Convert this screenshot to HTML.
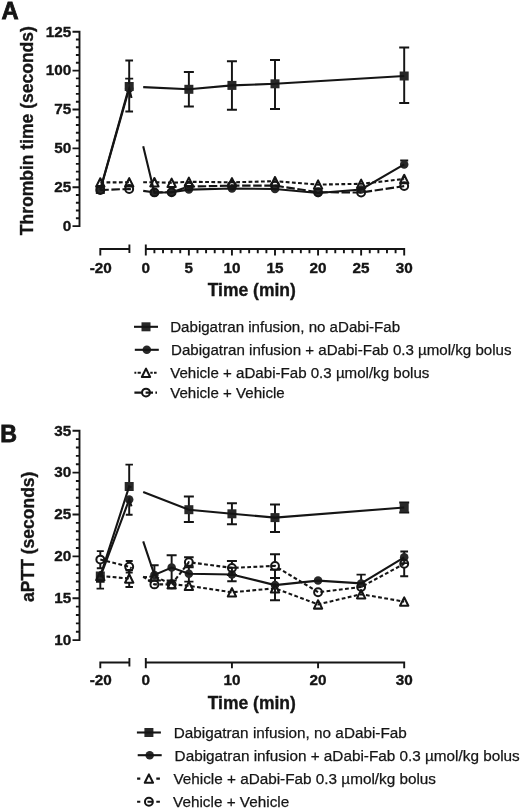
<!DOCTYPE html>
<html lang="en">
<head>
<meta charset="utf-8">
<title>Figure: Thrombin time and aPTT</title>
<style>
html,body{margin:0;padding:0;background:#fff;}
body{width:520px;height:809px;overflow:hidden;}
svg{display:block;filter:blur(0.3px);font-family:"Liberation Sans",Arial,Helvetica,sans-serif;fill:#151515;}
</style>
</head>
<body>
<svg width="520" height="809" viewBox="0 0 520 809">
<rect x="0" y="0" width="520" height="809" fill="#fff"/>
<text x="1.6" y="19" font-size="23.7" font-weight="bold" text-anchor="start" stroke="#151515" stroke-width="0.8">A</text>
<path d="M79.5 30.75 V227.05 M72.5 31.7 H79.5 M75.9 39.48 H79.5 M75.9 47.25 H79.5 M75.9 55.03 H79.5 M75.9 62.8 H79.5 M72.5 70.58 H79.5 M75.9 78.36 H79.5 M75.9 86.13 H79.5 M75.9 93.91 H79.5 M75.9 101.68 H79.5 M72.5 109.46 H79.5 M75.9 117.24 H79.5 M75.9 125.01 H79.5 M75.9 132.79 H79.5 M75.9 140.56 H79.5 M72.5 148.34 H79.5 M75.9 156.12 H79.5 M75.9 163.89 H79.5 M75.9 171.67 H79.5 M75.9 179.44 H79.5 M72.5 187.22 H79.5 M75.9 195 H79.5 M75.9 202.77 H79.5 M75.9 210.55 H79.5 M75.9 218.32 H79.5 M72.5 226.1 H79.5" fill="none" stroke="#151515" stroke-width="1.9"/>
<text x="71.3" y="36.5" font-size="15.3" font-weight="bold" text-anchor="end" stroke="#151515" stroke-width="0.35">125</text>
<text x="71.3" y="75.38" font-size="15.3" font-weight="bold" text-anchor="end" stroke="#151515" stroke-width="0.35">100</text>
<text x="71.3" y="114.26" font-size="15.3" font-weight="bold" text-anchor="end" stroke="#151515" stroke-width="0.35">75</text>
<text x="71.3" y="153.14" font-size="15.3" font-weight="bold" text-anchor="end" stroke="#151515" stroke-width="0.35">50</text>
<text x="71.3" y="192.02" font-size="15.3" font-weight="bold" text-anchor="end" stroke="#151515" stroke-width="0.35">25</text>
<text x="71.3" y="230.9" font-size="15.3" font-weight="bold" text-anchor="end" stroke="#151515" stroke-width="0.35">0</text>
<text transform="translate(33.3 130.7) rotate(-90)" font-size="17.5" font-weight="bold" text-anchor="middle" stroke="#151515" stroke-width="0.35">Thrombin time (seconds)</text>
<path d="M99.35 249 H129.4 M100.3 249 V255.4 M129.4 244.4 V253 M145.8 249 H405.15 M145.8 244.4 V255.4 M154.41 249 V253.3 M163.03 249 V253.3 M171.64 249 V253.3 M180.25 249 V253.3 M188.87 249 V255.4 M197.48 249 V253.3 M206.09 249 V253.3 M214.71 249 V253.3 M223.32 249 V253.3 M231.93 249 V255.4 M240.55 249 V253.3 M249.16 249 V253.3 M257.77 249 V253.3 M266.39 249 V253.3 M275 249 V255.4 M283.61 249 V253.3 M292.23 249 V253.3 M300.84 249 V253.3 M309.45 249 V253.3 M318.07 249 V255.4 M326.68 249 V253.3 M335.29 249 V253.3 M343.91 249 V253.3 M352.52 249 V253.3 M361.13 249 V255.4 M369.75 249 V253.3 M378.36 249 V253.3 M386.97 249 V253.3 M395.59 249 V253.3 M404.2 249 V255.4" fill="none" stroke="#151515" stroke-width="1.9"/>
<text x="100.8" y="272.5" font-size="15.3" font-weight="bold" text-anchor="middle" stroke="#151515" stroke-width="0.35">-20</text>
<text x="145.8" y="272.5" font-size="15.3" font-weight="bold" text-anchor="middle" stroke="#151515" stroke-width="0.35">0</text>
<text x="188.87" y="272.5" font-size="15.3" font-weight="bold" text-anchor="middle" stroke="#151515" stroke-width="0.35">5</text>
<text x="231.93" y="272.5" font-size="15.3" font-weight="bold" text-anchor="middle" stroke="#151515" stroke-width="0.35">10</text>
<text x="275" y="272.5" font-size="15.3" font-weight="bold" text-anchor="middle" stroke="#151515" stroke-width="0.35">15</text>
<text x="318.07" y="272.5" font-size="15.3" font-weight="bold" text-anchor="middle" stroke="#151515" stroke-width="0.35">20</text>
<text x="361.13" y="272.5" font-size="15.3" font-weight="bold" text-anchor="middle" stroke="#151515" stroke-width="0.35">25</text>
<text x="404.2" y="272.5" font-size="15.3" font-weight="bold" text-anchor="middle" stroke="#151515" stroke-width="0.35">30</text>
<text x="251.8" y="295.9" font-size="17.5" font-weight="bold" text-anchor="middle" stroke="#151515" stroke-width="0.35">Time (min)</text>
<path d="M129.2 60.4 V86.5 M125.35 60.4 H133.05 M129.2 86.5 V111.5 M125.35 111.5 H133.05" fill="none" stroke="#151515" stroke-width="1.95"/>
<path d="M188.87 72 V89.3 M183.87 72 H193.87 M188.87 89.3 V106.5 M183.87 106.5 H193.87" fill="none" stroke="#151515" stroke-width="1.95"/>
<path d="M231.93 61.2 V85.4 M226.93 61.2 H236.93 M231.93 85.4 V109.7 M226.93 109.7 H236.93" fill="none" stroke="#151515" stroke-width="1.95"/>
<path d="M275 60 V83.8 M270 60 H280 M275 83.8 V109 M270 109 H280" fill="none" stroke="#151515" stroke-width="1.95"/>
<path d="M404.2 47.5 V76 M399.2 47.5 H409.2 M404.2 76 V103 M399.2 103 H409.2" fill="none" stroke="#151515" stroke-width="1.95"/>
<rect x="95.8" y="185" width="9.0" height="9.0" fill="#282828"/>
<rect x="124.7" y="82" width="9.0" height="9.0" fill="#282828"/>
<rect x="184.37" y="84.8" width="9.0" height="9.0" fill="#282828"/>
<rect x="227.43" y="80.9" width="9.0" height="9.0" fill="#282828"/>
<rect x="270.5" y="79.3" width="9.0" height="9.0" fill="#282828"/>
<rect x="399.7" y="71.5" width="9.0" height="9.0" fill="#282828"/>
<path d="M100.3 189.5 L129.2 86.5 L131.5 86.61 M143.2 87.16 L188.87 89.3 L231.93 85.4 L275 83.8 L404.2 76" fill="none" stroke="#151515" stroke-width="2.1"/>
<path d="M129.2 78.6 V88.5 M125.2 78.6 H133.2" fill="none" stroke="#151515" stroke-width="1.95"/>
<path d="M404.2 160.5 V164.4 M400.2 160.5 H408.2" fill="none" stroke="#151515" stroke-width="1.95"/>
<circle cx="100.3" cy="190" r="4.25" fill="#282828"/>
<circle cx="129.2" cy="88.5" r="4.25" fill="#282828"/>
<circle cx="154.41" cy="192.7" r="4.25" fill="#282828"/>
<circle cx="171.64" cy="192.3" r="4.25" fill="#282828"/>
<circle cx="188.87" cy="189.6" r="4.25" fill="#282828"/>
<circle cx="231.93" cy="188.5" r="4.25" fill="#282828"/>
<circle cx="275" cy="189" r="4.25" fill="#282828"/>
<circle cx="318.07" cy="193" r="4.25" fill="#282828"/>
<circle cx="361.13" cy="189.5" r="4.25" fill="#282828"/>
<circle cx="404.2" cy="164.4" r="4.25" fill="#282828"/>
<path d="M100.3 190 L129.2 88.5 L131.5 98.01 M143.2 146.36 L154.41 192.7 L171.64 192.3 L188.87 189.6 L231.93 188.5 L275 189 L318.07 193 L361.13 189.5 L404.2 164.4" fill="none" stroke="#151515" stroke-width="2.1"/>
<path d="M100.3 178.2 L96.15 186.6 L104.45 186.6 Z" fill="none" stroke="#151515" stroke-width="2.05" stroke-linejoin="round"/>
<path d="M129.2 178.1 L125.05 186.5 L133.35 186.5 Z" fill="none" stroke="#151515" stroke-width="2.05" stroke-linejoin="round"/>
<path d="M154.41 178 L150.26 186.4 L158.56 186.4 Z" fill="none" stroke="#151515" stroke-width="2.05" stroke-linejoin="round"/>
<path d="M171.64 178.6 L167.49 187 L175.79 187 Z" fill="none" stroke="#151515" stroke-width="2.05" stroke-linejoin="round"/>
<path d="M188.87 177.6 L184.72 186 L193.02 186 Z" fill="none" stroke="#151515" stroke-width="2.05" stroke-linejoin="round"/>
<path d="M231.93 178.1 L227.78 186.5 L236.08 186.5 Z" fill="none" stroke="#151515" stroke-width="2.05" stroke-linejoin="round"/>
<path d="M275 177 L270.85 185.4 L279.15 185.4 Z" fill="none" stroke="#151515" stroke-width="2.05" stroke-linejoin="round"/>
<path d="M318.07 180.4 L313.92 188.8 L322.22 188.8 Z" fill="none" stroke="#151515" stroke-width="2.05" stroke-linejoin="round"/>
<path d="M361.13 179.6 L356.98 188 L365.28 188 Z" fill="none" stroke="#151515" stroke-width="2.05" stroke-linejoin="round"/>
<path d="M404.2 174.8 L400.05 183.2 L408.35 183.2 Z" fill="none" stroke="#151515" stroke-width="2.05" stroke-linejoin="round"/>
<path d="M100.3 182.4 L129.2 182.3 L131.5 182.29 M143.2 182.24 L154.41 182.2 L171.64 182.8 L188.87 181.8 L231.93 182.3 L275 181.2 L318.07 184.6 L361.13 183.8 L404.2 179" fill="none" stroke="#151515" stroke-width="2.1" stroke-dasharray="3.8 2.4"/>
<circle cx="100.3" cy="190" r="3.95" fill="none" stroke="#151515" stroke-width="2.0"/>
<circle cx="129.2" cy="189" r="3.95" fill="none" stroke="#151515" stroke-width="2.0"/>
<circle cx="154.41" cy="192.4" r="3.95" fill="none" stroke="#151515" stroke-width="2.0"/>
<circle cx="171.64" cy="192.2" r="3.95" fill="none" stroke="#151515" stroke-width="2.0"/>
<circle cx="188.87" cy="186.6" r="3.95" fill="none" stroke="#151515" stroke-width="2.0"/>
<circle cx="231.93" cy="185.6" r="3.95" fill="none" stroke="#151515" stroke-width="2.0"/>
<circle cx="275" cy="185.6" r="3.95" fill="none" stroke="#151515" stroke-width="2.0"/>
<circle cx="318.07" cy="192.2" r="3.95" fill="none" stroke="#151515" stroke-width="2.0"/>
<circle cx="361.13" cy="192.5" r="3.95" fill="none" stroke="#151515" stroke-width="2.0"/>
<circle cx="404.2" cy="186.1" r="3.95" fill="none" stroke="#151515" stroke-width="2.0"/>
<path d="M100.3 190 L129.2 189 L131.5 189.31 M143.2 190.89 L154.41 192.4 L171.64 192.2 L188.87 186.6 L231.93 185.6 L275 185.6 L318.07 192.2 L361.13 192.5 L404.2 186.1" fill="none" stroke="#151515" stroke-width="2.1" stroke-dasharray="8.5 2.6"/>
<rect x="141.5" y="322.3" width="9.0" height="9.0" fill="#282828"/>
<path d="M134 326.8 h24" stroke="#151515" stroke-width="2.1" fill="none"/>
<text x="170.2" y="332" font-size="15.1" font-weight="normal" text-anchor="start" stroke="#151515" stroke-width="0.25">Dabigatran infusion, no aDabi-Fab</text>
<circle cx="146.8" cy="349.8" r="4.25" fill="#282828"/>
<path d="M134.8 349.8 h24" stroke="#151515" stroke-width="2.1" fill="none"/>
<text x="171" y="355" font-size="15.1" font-weight="normal" text-anchor="start" stroke="#151515" stroke-width="0.25">Dabigatran infusion + aDabi-Fab 0.3 µmol/kg bolus</text>
<path d="M146 368.6 L141.85 377 L150.15 377 Z" fill="none" stroke="#151515" stroke-width="2.05" stroke-linejoin="round"/>
<path d="M134 372.8 m0.4 0 h1.9 m1.3 0 h3.2 m9.5 0 h2.4 m1.3 0 h2.6" stroke="#151515" stroke-width="2.1" fill="none"/>
<text x="170.2" y="378" font-size="15.1" font-weight="normal" text-anchor="start" stroke="#151515" stroke-width="0.25">Vehicle + aDabi-Fab 0.3 µmol/kg bolus</text>
<circle cx="146" cy="392.6" r="3.95" fill="none" stroke="#151515" stroke-width="2.0"/>
<path d="M134 392.6 m0.4 0 h8.6 m2.6 0 h7.4 m2.4 0 h1.6" stroke="#151515" stroke-width="2.1" fill="none"/>
<text x="170.2" y="397.8" font-size="15.1" font-weight="normal" text-anchor="start" stroke="#151515" stroke-width="0.25">Vehicle + Vehicle</text>
<text x="0.3" y="441.8" font-size="23.2" font-weight="bold" text-anchor="start" stroke="#151515" stroke-width="0.8">B</text>
<path d="M79.5 429.85 V641.05 M72.5 430.8 H79.5 M75.9 439.17 H79.5 M75.9 447.54 H79.5 M75.9 455.92 H79.5 M75.9 464.29 H79.5 M72.5 472.66 H79.5 M75.9 481.03 H79.5 M75.9 489.4 H79.5 M75.9 497.78 H79.5 M75.9 506.15 H79.5 M72.5 514.52 H79.5 M75.9 522.89 H79.5 M75.9 531.26 H79.5 M75.9 539.64 H79.5 M75.9 548.01 H79.5 M72.5 556.38 H79.5 M75.9 564.75 H79.5 M75.9 573.12 H79.5 M75.9 581.5 H79.5 M75.9 589.87 H79.5 M72.5 598.24 H79.5 M75.9 606.61 H79.5 M75.9 614.98 H79.5 M75.9 623.36 H79.5 M75.9 631.73 H79.5 M72.5 640.1 H79.5" fill="none" stroke="#151515" stroke-width="1.9"/>
<text x="71.3" y="435.6" font-size="15.3" font-weight="bold" text-anchor="end" stroke="#151515" stroke-width="0.35">35</text>
<text x="71.3" y="477.46" font-size="15.3" font-weight="bold" text-anchor="end" stroke="#151515" stroke-width="0.35">30</text>
<text x="71.3" y="519.32" font-size="15.3" font-weight="bold" text-anchor="end" stroke="#151515" stroke-width="0.35">25</text>
<text x="71.3" y="561.18" font-size="15.3" font-weight="bold" text-anchor="end" stroke="#151515" stroke-width="0.35">20</text>
<text x="71.3" y="603.04" font-size="15.3" font-weight="bold" text-anchor="end" stroke="#151515" stroke-width="0.35">15</text>
<text x="71.3" y="644.9" font-size="15.3" font-weight="bold" text-anchor="end" stroke="#151515" stroke-width="0.35">10</text>
<text transform="translate(34 536.75) rotate(-90)" font-size="17.5" font-weight="bold" text-anchor="middle" stroke="#151515" stroke-width="0.35">aPTT (seconds)</text>
<path d="M99.35 662.5 H129.4 M100.3 662.5 V668.3 M129.4 657.9 V666.5 M145.8 662.5 H405.15 M145.8 657.9 V668.3 M231.93 662.5 V668.3 M318.07 662.5 V668.3 M404.2 662.5 V668.3" fill="none" stroke="#151515" stroke-width="1.9"/>
<text x="100.8" y="685.1" font-size="15.3" font-weight="bold" text-anchor="middle" stroke="#151515" stroke-width="0.35">-20</text>
<text x="145.8" y="685.1" font-size="15.3" font-weight="bold" text-anchor="middle" stroke="#151515" stroke-width="0.35">0</text>
<text x="231.93" y="685.1" font-size="15.3" font-weight="bold" text-anchor="middle" stroke="#151515" stroke-width="0.35">10</text>
<text x="318.07" y="685.1" font-size="15.3" font-weight="bold" text-anchor="middle" stroke="#151515" stroke-width="0.35">20</text>
<text x="404.2" y="685.1" font-size="15.3" font-weight="bold" text-anchor="middle" stroke="#151515" stroke-width="0.35">30</text>
<text x="251.8" y="709" font-size="17.5" font-weight="bold" text-anchor="middle" stroke="#151515" stroke-width="0.35">Time (min)</text>
<path d="M100.3 576 V581.7 M96 581.7 H104.6" fill="none" stroke="#151515" stroke-width="1.95"/>
<path d="M129.2 464.6 V486.5 M125.45 464.6 H132.95" fill="none" stroke="#151515" stroke-width="1.95"/>
<path d="M188.87 496.4 V509.7 M183.87 496.4 H193.87 M188.87 509.7 V521.9 M183.87 521.9 H193.87" fill="none" stroke="#151515" stroke-width="1.95"/>
<path d="M231.93 503.3 V513.8 M226.93 503.3 H236.93 M231.93 513.8 V524.3 M226.93 524.3 H236.93" fill="none" stroke="#151515" stroke-width="1.95"/>
<path d="M275 504.5 V517.6 M270 504.5 H280 M275 517.6 V532 M270 532 H280" fill="none" stroke="#151515" stroke-width="1.95"/>
<path d="M404.2 502.5 V507.5 M399.2 502.5 H409.2 M404.2 507.5 V512.5 M399.2 512.5 H409.2" fill="none" stroke="#151515" stroke-width="1.95"/>
<rect x="95.8" y="571.5" width="9.0" height="9.0" fill="#282828"/>
<rect x="124.7" y="482" width="9.0" height="9.0" fill="#282828"/>
<rect x="184.37" y="505.2" width="9.0" height="9.0" fill="#282828"/>
<rect x="227.43" y="509.3" width="9.0" height="9.0" fill="#282828"/>
<rect x="270.5" y="513.1" width="9.0" height="9.0" fill="#282828"/>
<rect x="399.7" y="503" width="9.0" height="9.0" fill="#282828"/>
<path d="M100.3 576 L129.2 486.5 L131.5 487.39 M143.2 491.94 L188.87 509.7 L231.93 513.8 L275 517.6 L404.2 507.5" fill="none" stroke="#151515" stroke-width="2.1"/>
<path d="M100.3 577 V588.6 M96.55 588.6 H104.05" fill="none" stroke="#151515" stroke-width="1.95"/>
<path d="M129.2 499.5 V514.8 M125.8 514.8 H132.6" fill="none" stroke="#151515" stroke-width="1.95"/>
<path d="M154.41 565.2 V574.9 M150.16 565.2 H158.66" fill="none" stroke="#151515" stroke-width="1.95"/>
<path d="M171.64 555.2 V567.6 M166.64 555.2 H176.64 M171.64 567.6 V580.5 M166.64 580.5 H176.64" fill="none" stroke="#151515" stroke-width="1.95"/>
<path d="M188.87 565.8 V573.7 M184.27 565.8 H193.47 M188.87 573.7 V581.6 M184.27 581.6 H193.47" fill="none" stroke="#151515" stroke-width="1.95"/>
<path d="M231.93 567.7 V574.5 M227.23 567.7 H236.63 M231.93 574.5 V581.3 M227.23 581.3 H236.63" fill="none" stroke="#151515" stroke-width="1.95"/>
<path d="M275 569.7 V585.1 M270 569.7 H280 M275 585.1 V600.2 M270 600.2 H280" fill="none" stroke="#151515" stroke-width="1.95"/>
<path d="M361.13 574.6 V583.4 M356.53 574.6 H365.73" fill="none" stroke="#151515" stroke-width="1.95"/>
<path d="M404.2 551.5 V557.3 M400.35 551.5 H408.05 M404.2 557.3 V563.1 M400.35 563.1 H408.05" fill="none" stroke="#151515" stroke-width="1.95"/>
<circle cx="100.3" cy="577" r="4.25" fill="#282828"/>
<circle cx="129.2" cy="499.5" r="4.25" fill="#282828"/>
<circle cx="154.41" cy="574.9" r="4.25" fill="#282828"/>
<circle cx="171.64" cy="567.6" r="4.25" fill="#282828"/>
<circle cx="188.87" cy="573.7" r="4.25" fill="#282828"/>
<circle cx="231.93" cy="574.5" r="4.25" fill="#282828"/>
<circle cx="275" cy="585.1" r="4.25" fill="#282828"/>
<circle cx="318.07" cy="580.6" r="4.25" fill="#282828"/>
<circle cx="361.13" cy="583.4" r="4.25" fill="#282828"/>
<circle cx="404.2" cy="557.3" r="4.25" fill="#282828"/>
<path d="M100.3 577 L129.2 499.5 L131.5 506.38 M143.2 541.37 L154.41 574.9 L171.64 567.6 L188.87 573.7 L231.93 574.5 L275 585.1 L318.07 580.6 L361.13 583.4 L404.2 557.3" fill="none" stroke="#151515" stroke-width="2.1"/>
<path d="M129.2 570 V574.3 M125.45 570 H132.95 M129.2 582.7 V587 M125.45 587 H132.95" fill="none" stroke="#151515" stroke-width="1.95"/>
<path d="M100.3 571.8 L96.15 580.2 L104.45 580.2 Z" fill="none" stroke="#151515" stroke-width="2.05" stroke-linejoin="round"/>
<path d="M129.2 574.3 L125.05 582.7 L133.35 582.7 Z" fill="none" stroke="#151515" stroke-width="2.05" stroke-linejoin="round"/>
<path d="M154.41 572.1 L150.26 580.5 L158.56 580.5 Z" fill="none" stroke="#151515" stroke-width="2.05" stroke-linejoin="round"/>
<path d="M171.64 580 L167.49 588.4 L175.79 588.4 Z" fill="none" stroke="#151515" stroke-width="2.05" stroke-linejoin="round"/>
<path d="M188.87 581.6 L184.72 590 L193.02 590 Z" fill="none" stroke="#151515" stroke-width="2.05" stroke-linejoin="round"/>
<path d="M231.93 588.1 L227.78 596.5 L236.08 596.5 Z" fill="none" stroke="#151515" stroke-width="2.05" stroke-linejoin="round"/>
<path d="M275 584.1 L270.85 592.5 L279.15 592.5 Z" fill="none" stroke="#151515" stroke-width="2.05" stroke-linejoin="round"/>
<path d="M318.07 600.2 L313.92 608.6 L322.22 608.6 Z" fill="none" stroke="#151515" stroke-width="2.05" stroke-linejoin="round"/>
<path d="M361.13 590 L356.98 598.4 L365.28 598.4 Z" fill="none" stroke="#151515" stroke-width="2.05" stroke-linejoin="round"/>
<path d="M404.2 597.4 L400.05 605.8 L408.35 605.8 Z" fill="none" stroke="#151515" stroke-width="2.05" stroke-linejoin="round"/>
<path d="M100.3 576 L129.2 578.5 L131.5 578.3 M143.2 577.28 L154.41 576.3 L171.64 584.2 L188.87 585.8 L231.93 592.3 L275 588.3 L318.07 604.4 L361.13 594.2 L404.2 601.6" fill="none" stroke="#151515" stroke-width="2.1" stroke-dasharray="3.8 2.4"/>
<path d="M100.3 551.1 V555.4 M96.8 551.1 H103.8 M100.3 563.8 V568.3 M96.8 568.3 H103.8" fill="none" stroke="#151515" stroke-width="1.95"/>
<path d="M129.2 561 V562.5 M125.7 561 H132.7 M129.2 570.9 V572.4 M125.7 572.4 H132.7" fill="none" stroke="#151515" stroke-width="1.95"/>
<path d="M147.91 580.5 H160.91" fill="none" stroke="#151515" stroke-width="1.95"/>
<path d="M188.87 557.3 V558 M184.07 557.3 H193.67 M188.87 566.4 V567.2 M184.07 567.2 H193.67" fill="none" stroke="#151515" stroke-width="1.95"/>
<path d="M231.93 560.9 V563.7 M226.93 560.9 H236.93 M231.93 572.1 V574.9 M226.93 574.9 H236.93" fill="none" stroke="#151515" stroke-width="1.95"/>
<path d="M275 554.3 V561.7 M270 554.3 H280 M275 570.1 V577.9 M270 577.9 H280" fill="none" stroke="#151515" stroke-width="1.95"/>
<path d="M404.2 568 V576.2 M400.2 576.2 H408.2" fill="none" stroke="#151515" stroke-width="1.95"/>
<circle cx="100.3" cy="559.6" r="3.95" fill="none" stroke="#151515" stroke-width="2.0"/>
<circle cx="129.2" cy="566.7" r="3.95" fill="none" stroke="#151515" stroke-width="2.0"/>
<circle cx="154.41" cy="584.4" r="3.95" fill="none" stroke="#151515" stroke-width="2.0"/>
<circle cx="171.64" cy="584.4" r="3.95" fill="none" stroke="#151515" stroke-width="2.0"/>
<circle cx="188.87" cy="562.2" r="3.95" fill="none" stroke="#151515" stroke-width="2.0"/>
<circle cx="231.93" cy="567.9" r="3.95" fill="none" stroke="#151515" stroke-width="2.0"/>
<circle cx="275" cy="565.9" r="3.95" fill="none" stroke="#151515" stroke-width="2.0"/>
<circle cx="318.07" cy="592.2" r="3.95" fill="none" stroke="#151515" stroke-width="2.0"/>
<circle cx="361.13" cy="587" r="3.95" fill="none" stroke="#151515" stroke-width="2.0"/>
<circle cx="404.2" cy="563.8" r="3.95" fill="none" stroke="#151515" stroke-width="2.0"/>
<path d="M100.3 559.6 L129.2 566.7 L131.5 568.31 M143.2 576.53 L154.41 584.4 L171.64 584.4 L188.87 562.2 L231.93 567.9 L275 565.9 L318.07 592.2 L361.13 587 L404.2 563.8" fill="none" stroke="#151515" stroke-width="2.1" stroke-dasharray="3.8 2.4"/>
<rect x="144.4" y="728" width="9.0" height="9.0" fill="#282828"/>
<path d="M136.9 732.5 h24" stroke="#151515" stroke-width="2.1" fill="none"/>
<text x="173.8" y="737.8" font-size="15.3" font-weight="normal" text-anchor="start" stroke="#151515" stroke-width="0.25">Dabigatran infusion, no aDabi-Fab</text>
<circle cx="149.7" cy="755.2" r="4.25" fill="#282828"/>
<path d="M137.7 755.2 h24" stroke="#151515" stroke-width="2.1" fill="none"/>
<text x="174.6" y="760.6" font-size="15.3" font-weight="normal" text-anchor="start" stroke="#151515" stroke-width="0.25">Dabigatran infusion + aDabi-Fab 0.3 µmol/kg bolus</text>
<path d="M148.9 774.4 L144.75 782.8 L153.05 782.8 Z" fill="none" stroke="#151515" stroke-width="2.05" stroke-linejoin="round"/>
<path d="M136.9 778.6 m0.2 0 h3.2 m16 0 h3.6" stroke="#151515" stroke-width="2.1" fill="none"/>
<text x="173.4" y="783.8" font-size="15.3" font-weight="normal" text-anchor="start" stroke="#151515" stroke-width="0.25">Vehicle + aDabi-Fab 0.3 µmol/kg bolus</text>
<circle cx="148.9" cy="801.7" r="3.95" fill="none" stroke="#151515" stroke-width="2.0"/>
<path d="M136.9 801.7 m0.2 0 h3.2 m7.2 0 h5.2 m3.6 0 h3.6" stroke="#151515" stroke-width="2.1" fill="none"/>
<text x="173.1" y="807" font-size="15.3" font-weight="normal" text-anchor="start" stroke="#151515" stroke-width="0.25">Vehicle + Vehicle</text>
</svg>
</body>
</html>
